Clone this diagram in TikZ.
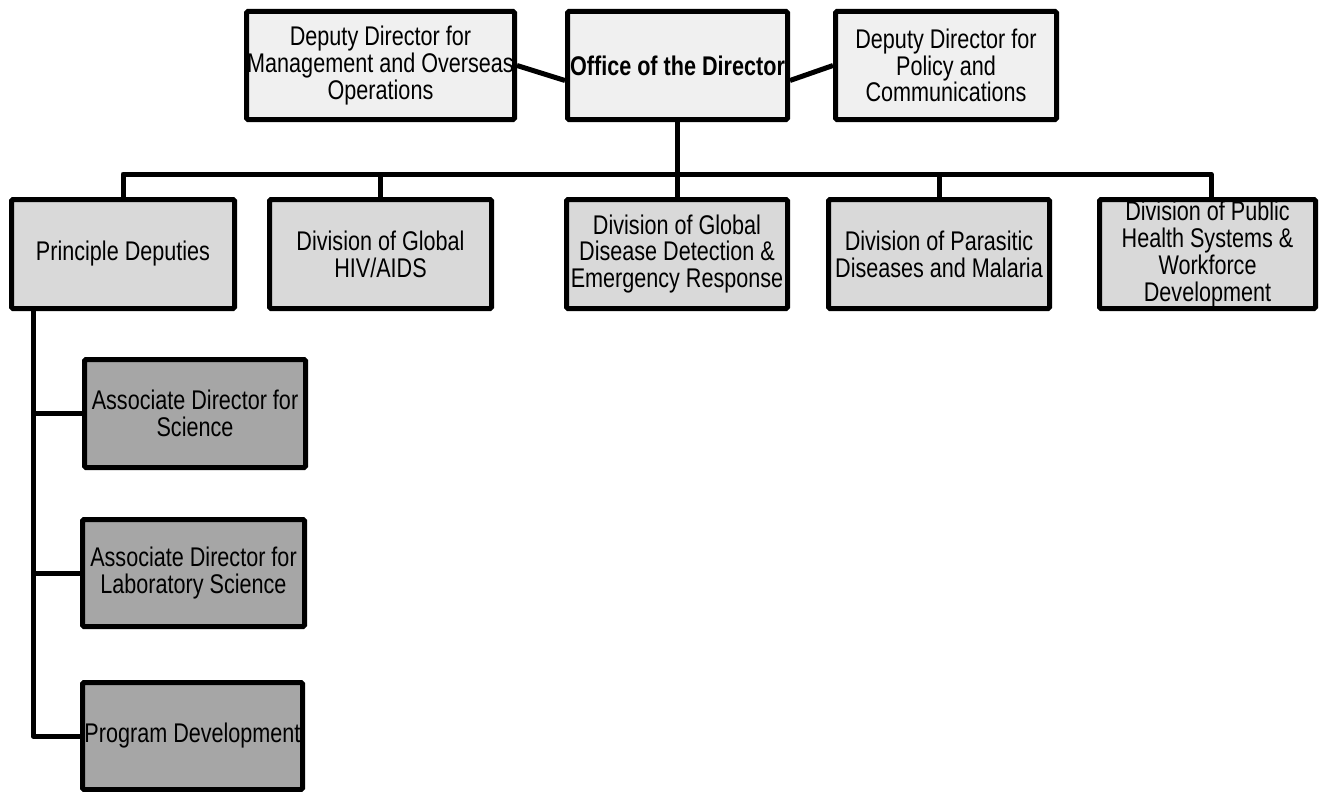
\documentclass[tikz,border=0pt]{standalone}
\usepackage{fontspec}
\setmainfont{Liberation Sans}[FakeStretch=0.8]
\definecolor{topfill}{HTML}{F0F0F0}
\definecolor{midfill}{HTML}{D9D9D9}
\definecolor{lowfill}{HTML}{A6A6A6}
\tikzset{
  box/.style={draw=black, line width=5pt, rounded corners=1.5pt, align=center,
    inner sep=0pt, font=\fontsize{27pt}{26.7pt}\selectfont, text=black},
  topbox/.style={box, fill=topfill},
  midbox/.style={box, fill=midfill},
  lowbox/.style={box, fill=lowfill},
  conn/.style={line width=5pt, line join=round, draw=black}
}
\begin{document}
\begin{tikzpicture}[x=1pt, y=-1pt]
\useasboundingbox (0,0) rectangle (1323,792);
% top row
\node[topbox, minimum width=268pt, minimum height=108pt] (ddm) at (380.5,65.5)
  {Deputy Director for\\Management and Overseas\\Operations};
\node[topbox, minimum width=220pt, minimum height=108pt] (office) at (677.5,65.5)
  {\bfseries Office of the Director};
\node[topbox, minimum width=221pt, minimum height=108pt] (ddp) at (946,65.5)
  {Deputy Director for\\Policy and\\Communications};
% second row
\node[midbox, minimum width=223pt, minimum height=109pt] (pd) at (123,254)
  {Principle Deputies};
\node[midbox, minimum width=222pt, minimum height=109pt] (hiv) at (380.5,254)
  {Division of Global\\HIV/AIDS};
\node[midbox, minimum width=221pt, minimum height=109pt] (gdd) at (677,254)
  {Division of Global\\Disease Detection \&\\Emergency Response};
\node[midbox, minimum width=221pt, minimum height=109pt] (par) at (939,254)
  {Division of Parasitic\\Diseases and Malaria};
\node[midbox, minimum width=216pt, minimum height=109pt] (ph) at (1207.5,254)
  {Division of Public\\Health Systems \&\\Workforce\\Development};
% third column
\node[lowbox, minimum width=221pt, minimum height=108pt] (ads) at (195,413.5)
  {Associate Director for\\Science};
\node[lowbox, minimum width=222pt, minimum height=107pt] (adl) at (193.5,573)
  {Associate Director for\\Laboratory Science};
\node[lowbox, minimum width=220pt, minimum height=107pt] (prog) at (192.5,736)
  {Program Development};
% connectors
\coordinate (bus) at (677.5,174);
\coordinate (trunk) at (33,0);
\draw[conn] (ddm.east) -- ([yshift=-15pt]office.west);
\draw[conn] ([yshift=-15pt]office.east) -- (ddp.west);
\draw[conn] (office.south) -- (office.south |- bus);
\draw[conn] (pd.north) |- ([xshift=3.5pt]ph.north |- bus) -- ([xshift=3.5pt]ph.north);
\draw[conn] (hiv.north |- bus) -- (hiv.north);
\draw[conn] (gdd.north |- bus) -- (gdd.north);
\draw[conn] (par.north |- bus) -- (par.north);
\draw[conn] (pd.south -| trunk) |- (prog.west);
\draw[conn] (ads.west -| trunk) -- (ads.west);
\draw[conn] (adl.west -| trunk) -- (adl.west);
\end{tikzpicture}
\end{document}
